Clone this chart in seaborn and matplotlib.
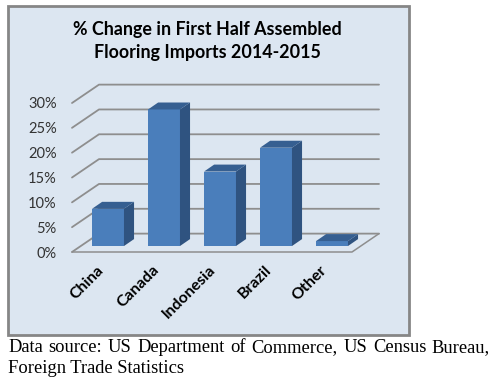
import seaborn as sns
import matplotlib.pyplot as plt
from matplotlib.patches import Polygon, Rectangle
from matplotlib.transforms import ScaledTranslation

countries = ["China", "Canada", "Indonesia", "Brazil", "Other"]
pct_change = [7.5, 27.5, 15, 19.8, 1]
y_ticks = [0, 5, 10, 15, 20, 25, 30]
title = "% Change in First Half Assembled\nFlooring Imports 2014-2015"
source_line1 = "Data source: US Department of Commerce, US Census Bureau,"
source_line2 = "Foreign Trade Statistics"

W, H = 496, 380

sns.set_style("white")
plt.rcParams["font.family"] = ["Lato", "DejaVu Sans"]

fig = plt.figure(figsize=(W / 100, H / 100), dpi=100)

# light blue panel behind the chart
fig.add_artist(Rectangle((8 / W, 1 - 335 / H), 401 / W, 329 / H, transform=fig.transFigure,
                         facecolor="#dce6f1", edgecolor="#868686", linewidth=2, zorder=-5))

# axes = the front edge of the 3d floor, 72..352 px wide, 0% at 252 px, 30% at 103 px
ax = fig.add_axes([72 / W, 1 - 252 / H, 280 / W, 149 / H])
ax.patch.set_alpha(0)

floor_gap = 1.2  # bars stand a little behind the front edge
wall_dx, wall_dy = 0.482, 3.7  # depth of the floor
bar_dx, bar_dy = 0.18, 1.4  # depth of a bar

sns.barplot(x=countries, y=pct_change, color="#4a7ebb", saturation=1, width=0.57,
            bottom=floor_gap, ax=ax, linewidth=0)

ax.set_xlim(-0.643, 4.357)
ax.set_ylim(0, 30)

grid_c = "#8e8e8e"
for t in y_ticks:
    ax.plot([-0.643, -0.643 + wall_dx, 4.357 + wall_dx], [t, t + wall_dy, t + wall_dy],
            color=grid_c, lw=1.3, clip_on=False, zorder=0.5)
ax.plot([-0.643, 4.357, 4.357 + wall_dx], [0, 0, wall_dy], color=grid_c, lw=1.1,
        clip_on=False, zorder=0.5)

# side and top faces of the bars
for p in ax.patches:
    x0, w = p.get_x(), p.get_width()
    y0, h = p.get_y(), p.get_height()
    x1, y1 = x0 + w, y0 + h
    ax.add_patch(Polygon([(x1, y0), (x1 + bar_dx, y0 + bar_dy), (x1 + bar_dx, y1 + bar_dy), (x1, y1)],
                         facecolor="#2f5380", edgecolor="none", clip_on=False, zorder=1))
    ax.add_patch(Polygon([(x0, y1), (x1, y1), (x1 + bar_dx, y1 + bar_dy), (x0 + bar_dx, y1 + bar_dy)],
                         facecolor="#365f91", edgecolor="none", clip_on=False, zorder=1))

sns.despine(ax=ax, left=True, bottom=True)
ax.set_yticks(y_ticks)
ax.set_yticklabels([f"{t}%" for t in y_ticks], fontsize=10.5, color="#333333")
ax.tick_params(axis="both", length=0)
ax.tick_params(axis="y", pad=11)
ax.tick_params(axis="x", pad=13)
shift = ScaledTranslation(-12 / 100, 7 / 100, fig.dpi_scale_trans)
for lab in ax.get_xticklabels():
    lab.set(rotation=45, ha="right", rotation_mode="anchor", fontsize=11.5, fontweight="bold", color="black")
    lab.set_transform(lab.get_transform() + shift)

fig.text(207.5 / W, 1 - 41 / H, title, ha="center", va="center", fontsize=12.9, fontweight="bold",
         color="black", linespacing=1.4)

# justified source note in two lines
renderer = fig.canvas.get_renderer()
words = source_line1.split(" ")
texts = [fig.text(0, 1 - 352 / H, w, family="Liberation Serif", fontsize=13.3, color="black", va="baseline") for w in words]
widths = [t.get_window_extent(renderer).width for t in texts]
gap = (490 - 8 - sum(widths)) / (len(words) - 1)
x = 8
for t, wd in zip(texts, widths):
    t.set_x(x / W)
    x += wd + gap
fig.text(8 / W, 1 - 373 / H, source_line2, family="Liberation Serif", fontsize=13.3, color="black", va="baseline")

fig.savefig("out.png", dpi=100)
